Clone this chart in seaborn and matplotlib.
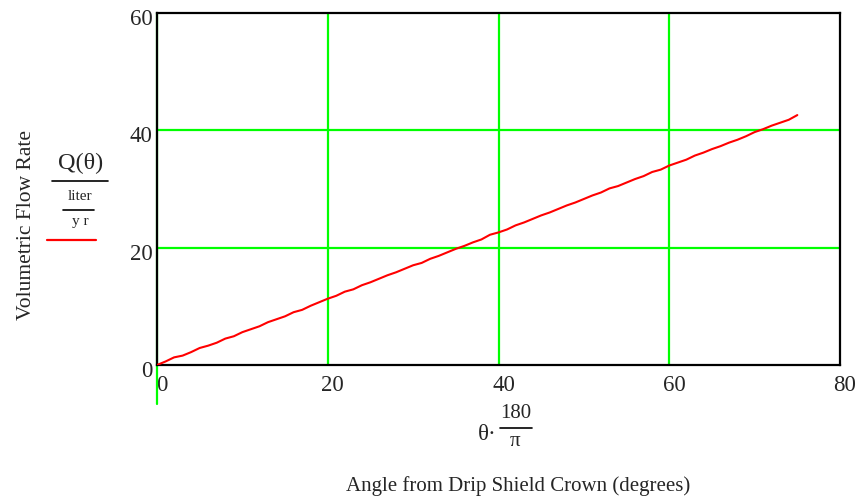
import matplotlib
matplotlib.use("Agg")
import matplotlib.pyplot as plt
import matplotlib.transforms as mtransforms
import seaborn as sns
import pandas as pd
from matplotlib.lines import Line2D

# Data
angle_deg = list(range(0, 76))
flow_rate = [0.0, 0.6, 1.3, 1.6, 2.2, 2.9, 3.3, 3.8, 4.5, 4.9,
             5.6, 6.1, 6.6, 7.3, 7.8, 8.3, 9.0, 9.4, 10.1, 10.7,
             11.3, 11.8, 12.5, 12.9, 13.6, 14.1, 14.7, 15.3, 15.8, 16.4,
             17.0, 17.4, 18.1, 18.6, 19.2, 19.8, 20.3, 20.9, 21.4, 22.2,
             22.6, 23.1, 23.8, 24.3, 24.9, 25.5, 26.0, 26.6, 27.2, 27.7,
             28.3, 28.9, 29.4, 30.1, 30.5, 31.1, 31.7, 32.2, 32.9, 33.3,
             34.0, 34.5, 35.0, 35.7, 36.2, 36.8, 37.3, 37.9, 38.4, 39.0,
             39.7, 40.2, 40.8, 41.3, 41.8, 42.6]
x_ticks = [0, 20, 40, 60, 80]
y_ticks = [0, 20, 40, 60]

df = pd.DataFrame({"angle": angle_deg, "Q": flow_rate})

sns.set_style("white")
plt.rcParams['font.family'] = ['Liberation Serif', 'DejaVu Serif']

W, H = 862, 500
fig = plt.figure(figsize=(W / 100, H / 100), dpi=100)
ax = fig.add_axes([157 / W, 1 - 365 / H, (840 - 157) / W, (365 - 13) / H])

green = "#00ff00"
for gx in [20, 40, 60]:
    ax.axvline(gx, color=green, lw=1.6, zorder=1)
for gy in [20, 40]:
    ax.axhline(gy, color=green, lw=1.6, zorder=1)
ax.axvline(0, ymin=-0.11, ymax=1, color=green, lw=1.6, zorder=1, clip_on=False)

sns.lineplot(data=df, x="angle", y="Q", ax=ax, color="red", lw=1.5, zorder=3)

ax.set_xlim(0, 80)
ax.set_ylim(0, 60)
ax.set_xticks(x_ticks)
ax.set_yticks(y_ticks)
ax.set_xticklabels([str(v) for v in x_ticks], fontsize=16.5)
ax.set_yticklabels([str(v) for v in y_ticks], fontsize=16.5)
ax.tick_params(axis="both", length=0)
ax.tick_params(axis="x", pad=6)
ax.tick_params(axis="y", pad=3)
ax.set_xlabel("")
ax.set_ylabel("")
for s in ax.spines.values():
    s.set_color("black")
    s.set_linewidth(1.6)
    s.set_visible(True)
ax.grid(False)

xoff = mtransforms.ScaledTranslation(5 / 100, -2 / 100, fig.dpi_scale_trans)
for lab in ax.get_xticklabels():
    lab.set_transform(lab.get_transform() + xoff)
yoff = mtransforms.ScaledTranslation(0, -4 / 100, fig.dpi_scale_trans)
for lab in ax.get_yticklabels():
    lab.set_transform(lab.get_transform() + yoff)

def fx(px):
    return px / W

def fy(py):
    return 1 - py / H

def ftext(x, y, s, size, **kw):
    fig.text(fx(x), fy(y), s, fontsize=size, ha="center", va="center", **kw)

def fline(x0, x1, y, color="black", lw=1.2):
    fig.add_artist(Line2D([fx(x0), fx(x1)], [fy(y), fy(y)], color=color, lw=lw,
                          transform=fig.transFigure))

# Y-axis label block
ftext(27, 225, "Volumetric Flow Rate", 15.5, rotation=90)
ftext(81, 163, "Q(θ)", 17.5)
fline(52, 108, 181)
ftext(80, 197, "liter", 11)
fline(63, 94, 210)
ftext(80, 222, "y r", 11)
fline(47, 96, 240, color="red", lw=1.6)

# X-axis label block
ftext(487, 434, "θ·", 16.5)
ftext(516, 414, "180", 15)
fline(500, 532, 428)
ftext(515, 442, "π", 15)
ftext(518, 486, "Angle from Drip Shield Crown (degrees)", 15)

fig.savefig("out.png", dpi=100)
